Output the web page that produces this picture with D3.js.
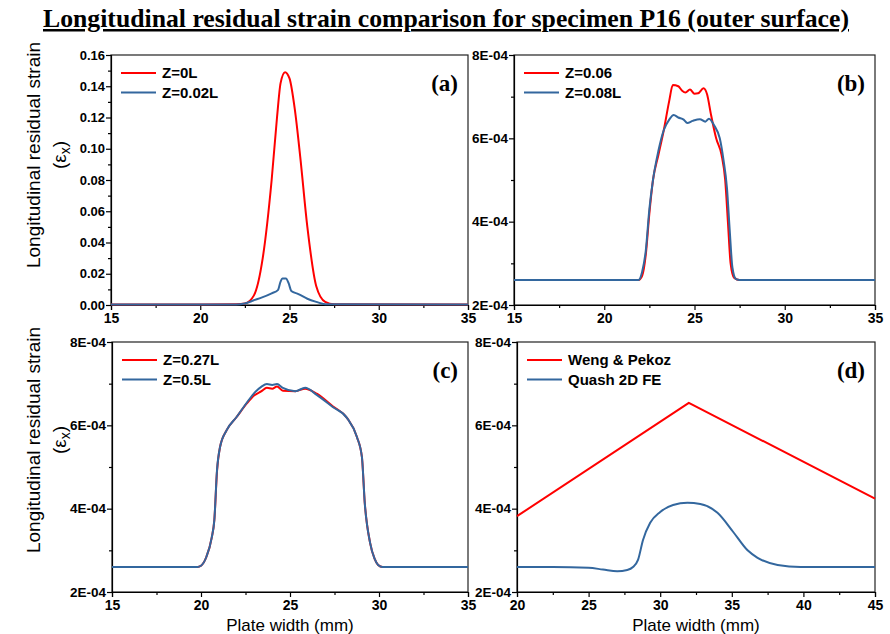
<!DOCTYPE html>
<html>
<head>
<meta charset="utf-8">
<script src="https://cdn.jsdelivr.net/npm/d3@7"></script>
<style>
  body { margin: 0; background: #fff; }
  svg { display: block; }
</style>
</head>
<body>
<div id="chart"></div>
<script>
const redColor = '#ff0000';
const blueColor = '#33679e';
const sansFont = '"Liberation Sans", Arial, sans-serif';
const serifFont = '"Liberation Serif", "Times New Roman", serif';

// panel (a): peak strain at Z=0L and Z=0.02L
const aX = [15, 20, 22, 22.5, 23, 23.5, 24, 24.3, 24.5, 24.75, 25, 25.3, 25.6, 26, 26.5, 27, 27.5, 35];
const aZ0 = [0.0003, 0.0003, 0.0005, 0.001, 0.006, 0.03, 0.08, 0.12, 0.142, 0.149, 0.145, 0.125, 0.095, 0.05, 0.012, 0.002, 0.0005, 0.0003];
const aX2 = [15, 22, 22.5, 23, 23.5, 24, 24.35, 24.5, 24.6, 24.8, 24.95, 25.1, 25.5, 26, 26.5, 27, 35];
const aZ002 = [0.0003, 0.0004, 0.001, 0.003, 0.005, 0.0075, 0.0095, 0.015, 0.017, 0.017, 0.014, 0.009, 0.007, 0.004, 0.002, 0.0005, 0.0003];

// panel (b)
const bX = [15, 21.9, 22.1, 22.3, 22.5, 22.7, 23.0, 23.3, 23.6, 23.8, 24.1, 24.3, 24.5, 24.75, 25.0, 25.2, 25.5, 25.7, 25.9, 26.2, 26.5, 26.7, 26.85, 27.0, 27.2, 27.5, 35];
const bZ006 = [2.6e-4, 2.6e-4, 2.7e-4, 3.2e-4, 4.2e-4, 5.0e-4, 5.6e-4, 6.2e-4, 6.9e-4, 7.28e-4, 7.25e-4, 7.15e-4, 7.1e-4, 7.17e-4, 7.07e-4, 7.08e-4, 7.2e-4, 7.05e-4, 6.6e-4, 6.0e-4, 5.6e-4, 5.0e-4, 4.0e-4, 3.0e-4, 2.65e-4, 2.6e-4, 2.6e-4];
const bX2 = [15, 21.9, 22.1, 22.3, 22.5, 22.7, 23.0, 23.3, 23.6, 23.85, 24.1, 24.4, 24.6, 24.9, 25.3, 25.6, 25.8, 26.1, 26.4, 26.6, 26.8, 26.95, 27.1, 27.3, 27.5, 35];
const bZ008 = [2.6e-4, 2.6e-4, 2.8e-4, 3.3e-4, 4.3e-4, 5.0e-4, 5.7e-4, 6.2e-4, 6.45e-4, 6.56e-4, 6.5e-4, 6.45e-4, 6.37e-4, 6.42e-4, 6.46e-4, 6.4e-4, 6.47e-4, 6.3e-4, 6.0e-4, 5.5e-4, 4.8e-4, 3.8e-4, 2.9e-4, 2.62e-4, 2.6e-4, 2.6e-4];

// panel (c)
const cX = [15, 19.8, 20.0, 20.3, 20.6, 20.75, 20.9, 21.07, 21.45, 22.0, 22.6, 23.0, 23.4, 23.7, 24.0, 24.27, 24.6, 25.3, 25.85, 26.5, 27.4, 28.2, 28.76, 29.04, 29.2, 29.5, 29.75, 29.95, 30.2, 35];
const cZ027 = [2.6e-4, 2.6e-4, 2.63e-4, 2.84e-4, 3.3e-4, 3.73e-4, 4.9e-4, 5.48e-4, 5.89e-4, 6.2e-4, 6.54e-4, 6.72e-4, 6.82e-4, 6.9e-4, 6.88e-4, 6.93e-4, 6.83e-4, 6.82e-4, 6.88e-4, 6.76e-4, 6.46e-4, 6.18e-4, 5.72e-4, 5.24e-4, 4.14e-4, 3.18e-4, 2.8e-4, 2.65e-4, 2.6e-4, 2.6e-4];
const cZ05 = [2.6e-4, 2.6e-4, 2.63e-4, 2.84e-4, 3.3e-4, 3.73e-4, 4.93e-4, 5.48e-4, 5.89e-4, 6.2e-4, 6.56e-4, 6.78e-4, 6.93e-4, 6.99e-4, 6.97e-4, 6.99e-4, 6.9e-4, 6.82e-4, 6.9e-4, 6.73e-4, 6.44e-4, 6.18e-4, 5.72e-4, 5.24e-4, 4.14e-4, 3.18e-4, 2.8e-4, 2.65e-4, 2.6e-4, 2.6e-4];

// panel (d)
const dX = [20, 32, 45];
const dWeng = [3.82e-4, 6.54e-4, 4.24e-4];
const dX2 = [20, 22.5, 25, 26, 27, 27.7, 28.1, 28.45, 28.8, 29.3, 30.0, 30.9, 31.9, 32.8, 34.0, 35.1, 36.1, 36.8, 38.2, 39.8, 42, 45];
const dQuash = [2.6e-4, 2.6e-4, 2.58e-4, 2.54e-4, 2.5e-4, 2.53e-4, 2.6e-4, 2.77e-4, 3.25e-4, 3.66e-4, 3.92e-4, 4.09e-4, 4.14e-4, 4.11e-4, 3.9e-4, 3.44e-4, 3.0e-4, 2.82e-4, 2.65e-4, 2.6e-4, 2.6e-4, 2.6e-4];

const eTicks = [2e-4, 4e-4, 6e-4, 8e-4];
const eMinor = [3e-4, 5e-4, 7e-4];

const width = 890, height = 634;

const svg = d3.select('#chart').append('svg')
  .attr('width', width)
  .attr('height', height);

function zip(xs, ys) {
  return xs.map(function(x, i) { return { x: x, y: ys[i] }; });
}

function expLabel(d) {
  return (d * 1e4).toFixed(0) + 'E-04';
}

function panel(opt) {
  const x = d3.scaleLinear().domain(opt.xDomain).range([opt.left, opt.right]);
  const y = d3.scaleLinear().domain(opt.yDomain).range([opt.bottom, opt.top]);
  const g = svg.append('g');

  // frame
  g.append('rect')
    .attr('x', opt.left)
    .attr('y', opt.top)
    .attr('width', opt.right - opt.left)
    .attr('height', opt.bottom - opt.top)
    .attr('fill', 'none')
    .attr('stroke', '#222')
    .attr('stroke-width', 1.2);

  const xAxis = g.append('g')
    .attr('transform', 'translate(0,' + opt.bottom + ')')
    .call(d3.axisBottom(x).tickValues(opt.xTicks).tickSize(5).tickPadding(3).tickFormat(d3.format('d')));
  g.append('g')
    .attr('transform', 'translate(0,' + opt.bottom + ')')
    .call(d3.axisBottom(x).tickValues(opt.xMinor).tickSize(3).tickFormat(''))
    .select('.domain').remove();

  const yAxis = g.append('g')
    .attr('transform', 'translate(' + opt.left + ',0)')
    .call(d3.axisLeft(y).tickValues(opt.yTicks).tickSize(5).tickPadding(1).tickFormat(opt.yFormat));
  g.append('g')
    .attr('transform', 'translate(' + opt.left + ',0)')
    .call(d3.axisLeft(y).tickValues(opt.yMinor).tickSize(3).tickFormat(''))
    .select('.domain').remove();

  g.selectAll('.tick line').attr('stroke', '#000').attr('stroke-width', 1.2);
  g.selectAll('.domain').attr('stroke', '#000').attr('stroke-width', 1.2);
  xAxis.attr('font-family', sansFont).attr('font-size', 14).attr('font-weight', 'bold');
  xAxis.selectAll('text').attr('fill', '#000');
  yAxis.attr('font-family', sansFont).attr('font-size', opt.yFontSize || 13.5).attr('font-weight', 'bold');
  yAxis.selectAll('text').attr('fill', '#000');

  const line = d3.line()
    .x(function(d) { return x(d.x); })
    .y(function(d) { return y(d.y); });

  opt.series.forEach(function(s) {
    g.append('path')
      .datum(zip(s.xs, s.ys))
      .attr('fill', 'none')
      .attr('stroke', s.color)
      .attr('stroke-width', 2)
      .attr('stroke-linejoin', 'round')
      .attr('d', s.linear ? line.curve(d3.curveLinear) : line.curve(d3.curveMonotoneX));
  });

  // legend
  opt.series.forEach(function(s, i) {
    const ly = opt.top + 18 + i * 19.5;
    g.append('line')
      .attr('x1', opt.left + 10)
      .attr('x2', opt.left + 45)
      .attr('y1', ly)
      .attr('y2', ly)
      .attr('stroke', s.color)
      .attr('stroke-width', 2);
    g.append('text')
      .text(s.name)
      .attr('x', opt.left + 51)
      .attr('y', ly)
      .attr('dy', '0.36em')
      .style('font-family', sansFont)
      .style('font-weight', 'bold')
      .style('font-size', '15px');
  });

  g.append('text')
    .text(opt.tag)
    .attr('x', opt.right - 10)
    .attr('y', opt.top + 36)
    .style('text-anchor', 'end')
    .style('font-family', serifFont)
    .style('font-weight', 'bold')
    .style('font-size', '23px');
}

panel({
  left: 111, right: 468, top: 55, bottom: 305,
  xDomain: [15, 35], yDomain: [0, 0.16],
  xTicks: [15, 20, 25, 30, 35], xMinor: [17.5, 22.5, 27.5, 32.5],
  yTicks: d3.range(0, 0.161, 0.02), yMinor: d3.range(0.01, 0.16, 0.02),
  yFormat: d3.format('.2f'), yFontSize: 13,
  tag: '(a)',
  series: [
    { name: 'Z=0L', xs: aX, ys: aZ0, color: redColor },
    { name: 'Z=0.02L', xs: aX2, ys: aZ002, color: blueColor }
  ]
});

panel({
  left: 514, right: 875, top: 55, bottom: 305,
  xDomain: [15, 35], yDomain: [2e-4, 8e-4],
  xTicks: [15, 20, 25, 30, 35], xMinor: [17.5, 22.5, 27.5, 32.5],
  yTicks: eTicks, yMinor: eMinor, yFormat: expLabel,
  tag: '(b)',
  series: [
    { name: 'Z=0.06', xs: bX, ys: bZ006, color: redColor },
    { name: 'Z=0.08L', xs: bX2, ys: bZ008, color: blueColor }
  ]
});

panel({
  left: 112, right: 468, top: 342, bottom: 592,
  xDomain: [15, 35], yDomain: [2e-4, 8e-4],
  xTicks: [15, 20, 25, 30, 35], xMinor: [17.5, 22.5, 27.5, 32.5],
  yTicks: eTicks, yMinor: eMinor, yFormat: expLabel,
  tag: '(c)',
  series: [
    { name: 'Z=0.27L', xs: cX, ys: cZ027, color: redColor },
    { name: 'Z=0.5L', xs: cX, ys: cZ05, color: blueColor }
  ]
});

panel({
  left: 517, right: 875, top: 342, bottom: 592,
  xDomain: [20, 45], yDomain: [2e-4, 8e-4],
  xTicks: [20, 25, 30, 35, 40, 45], xMinor: [22.5, 27.5, 32.5, 37.5, 42.5],
  yTicks: eTicks, yMinor: eMinor, yFormat: expLabel,
  tag: '(d)',
  series: [
    { name: 'Weng & Pekoz', xs: dX, ys: dWeng, color: redColor, linear: true },
    { name: 'Quash 2D FE', xs: dX2, ys: dQuash, color: blueColor }
  ]
});

// title
svg.append('text')
  .text('Longitudinal residual strain comparison for specimen P16 (outer surface)')
  .attr('x', 446)
  .attr('y', 27)
  .attr('textLength', 806)
  .attr('lengthAdjust', 'spacingAndGlyphs')
  .style('text-anchor', 'middle')
  .style('font-family', serifFont)
  .style('font-weight', 'bold')
  .style('font-size', '25px')
  .style('text-decoration', 'underline');

// y axis titles
[155, 440].forEach(function(cy) {
  svg.append('text')
    .text('Longitudinal residual strain')
    .attr('transform', 'translate(40,' + cy + ') rotate(-90)')
    .style('text-anchor', 'middle')
    .style('font-family', sansFont)
    .style('font-size', '19px');
  const eps = svg.append('text')
    .attr('transform', 'translate(66,' + cy + ') rotate(-90)')
    .style('text-anchor', 'middle')
    .style('font-family', sansFont)
    .style('font-size', '19px');
  eps.append('tspan').text('(ε');
  eps.append('tspan').text('x').attr('dy', 4).style('font-size', '14px');
  eps.append('tspan').text(')').attr('dy', -4);
});

// x axis titles
[290, 696].forEach(function(cx) {
  svg.append('text')
    .text('Plate width (mm)')
    .attr('x', cx)
    .attr('y', 631)
    .style('text-anchor', 'middle')
    .style('font-family', sansFont)
    .style('font-size', '17px');
});
</script>
</body>
</html>
